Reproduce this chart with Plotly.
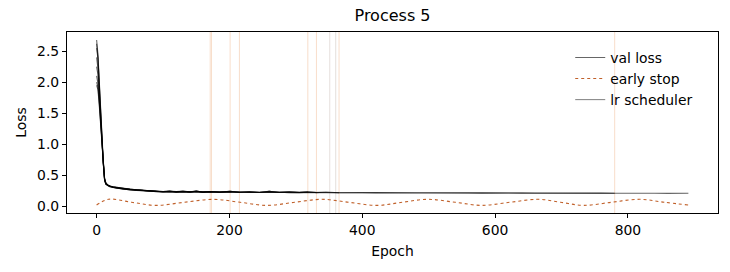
import plotly.graph_objects as go

# ---------------- data ----------------
epochs = [0, 2, 4, 6, 8, 10, 12, 14, 17, 20, 25, 30, 40, 50, 60, 70, 80, 90, 100, 110,
          120, 130, 140, 150, 160, 172, 185, 201, 215, 230, 245, 260, 275, 290, 305, 318,
          331, 345, 365, 380, 400, 420, 440, 460, 480, 500, 520, 540, 560, 580, 600, 620,
          640, 660, 680, 700, 720, 740, 760, 780, 800, 820, 840, 860, 880, 891]

run_1 = [2.68, 2.45, 2.02, 1.55, 1.12, 0.74, 0.45, 0.37, 0.34, 0.32, 0.31, 0.30, 0.28, 0.27,
         0.26, 0.25, 0.24, 0.235, 0.23, 0.228, 0.232, 0.225, 0.228, 0.222, 0.226, 0.22,
         0.224, 0.219, 0.225, 0.218, 0.222, 0.217, 0.221, 0.216, 0.22, 0.215, 0.219, 0.214,
         0.218, 0.213, 0.216, 0.212, 0.215, 0.211, 0.214, 0.21, 0.213, 0.209, 0.212, 0.208,
         0.211, 0.207, 0.21, 0.207, 0.209, 0.206, 0.209, 0.206, 0.208, 0.205, 0.208, 0.205,
         0.207, 0.204, 0.206, 0.205]
run_2 = [2.55, 2.38, 1.98, 1.50, 1.08, 0.70, 0.42, 0.36, 0.33, 0.31, 0.30, 0.29, 0.275,
         0.265, 0.255, 0.245, 0.238, 0.232, 0.228, 0.233, 0.226, 0.23, 0.224, 0.229, 0.222,
         0.227, 0.221, 0.226, 0.22, 0.224, 0.218, 0.223, 0.217, 0.222, 0.216, 0.221, 0.215,
         0.219, 0.214, 0.218, 0.213, 0.216, 0.212, 0.215, 0.211, 0.214, 0.21, 0.213, 0.209,
         0.212, 0.208, 0.211, 0.208, 0.21, 0.207, 0.209, 0.206, 0.209, 0.207, 0.206]
run_3 = [2.25, 2.12, 1.80, 1.40, 1.02, 0.68, 0.43, 0.36, 0.33, 0.315, 0.30, 0.29, 0.27,
         0.26, 0.25, 0.242, 0.236, 0.23, 0.226, 0.234, 0.224, 0.231, 0.223, 0.235, 0.222,
         0.229, 0.221, 0.233, 0.22, 0.228, 0.219, 0.236, 0.218, 0.227, 0.217, 0.231, 0.216,
         0.226, 0.215]
run_4 = [2.62, 2.40, 1.95, 1.48, 1.05, 0.69, 0.44, 0.37, 0.335, 0.32, 0.305, 0.295, 0.28,
         0.27, 0.262, 0.252, 0.244, 0.238, 0.233, 0.238, 0.229, 0.236, 0.227, 0.24, 0.226,
         0.234, 0.225, 0.238, 0.223, 0.232, 0.222, 0.237, 0.221, 0.23, 0.22, 0.225]
run_5 = [2.10, 1.98, 1.70, 1.33, 0.98, 0.66, 0.42, 0.35, 0.325, 0.31, 0.298, 0.287, 0.272,
         0.262, 0.254, 0.246, 0.24, 0.234, 0.229, 0.236, 0.227, 0.233, 0.225, 0.238, 0.224,
         0.231, 0.223, 0.236, 0.222]
run_6 = [1.95, 1.88, 1.62, 1.28, 0.95, 0.64, 0.41, 0.35, 0.33, 0.318, 0.305, 0.295, 0.278,
         0.268, 0.258, 0.25, 0.243, 0.237, 0.232, 0.239, 0.23, 0.237, 0.228, 0.241, 0.227,
         0.235, 0.226, 0.232]
run_7 = [2.00, 1.92, 1.66, 1.31, 0.97, 0.65, 0.42, 0.355, 0.332, 0.32, 0.31, 0.30, 0.285,
         0.272, 0.262, 0.254, 0.247, 0.24, 0.235, 0.242, 0.232, 0.24, 0.23, 0.236, 0.228,
         0.231]
run_8 = [2.40, 2.22, 1.86, 1.44, 1.04, 0.70, 0.44, 0.365, 0.335, 0.322, 0.308, 0.297,
         0.279, 0.268, 0.259, 0.249, 0.242, 0.236, 0.231, 0.237, 0.228, 0.235, 0.226, 0.239,
         0.225, 0.233, 0.224, 0.237, 0.223, 0.231, 0.222, 0.236, 0.221, 0.229, 0.22, 0.226,
         0.219]
val_runs = [run_1, run_2, run_3, run_4, run_5, run_6, run_7, run_8]

early_stop_epochs = [0, 18, 53, 89, 132, 176, 216, 257, 298, 339, 380, 422, 460, 499, 540,
                     580, 622, 665, 699, 733, 775, 818, 855, 891]
early_stop_values = [0.015, 0.108, 0.06, 0.01, 0.06, 0.108, 0.06, 0.01, 0.06, 0.108, 0.06,
                     0.01, 0.06, 0.108, 0.06, 0.01, 0.06, 0.108, 0.06, 0.01, 0.06, 0.108,
                     0.06, 0.016]

stop_marks = [171, 173, 201, 215, 318, 331, 365, 780]
lr_marks = [351, 360]

x_ticks = [0, 200, 400, 600, 800]
y_ticks = [0.0, 0.5, 1.0, 1.5, 2.0, 2.5]

# ---------------- figure ----------------
FONT = "DejaVu Sans"
FS = 13.9
Y_RANGE = [-0.113, 2.81]
fig = go.Figure()

for e in stop_marks:
    fig.add_trace(go.Scatter(x=[e, e], y=Y_RANGE, mode="lines", showlegend=False,
                             line=dict(color="rgba(236,160,105,0.35)", width=1),
                             hoverinfo="skip"))
for e in lr_marks:
    fig.add_trace(go.Scatter(x=[e, e], y=Y_RANGE, mode="lines", showlegend=False,
                             line=dict(color="rgba(170,150,140,0.3)", width=1),
                             hoverinfo="skip"))

for i, vals in enumerate(val_runs):
    fig.add_trace(go.Scatter(x=epochs[:len(vals)], y=vals, mode="lines",
                             name="val loss", showlegend=(i == 0), legendgroup="val",
                             line=dict(color="rgba(0,0,0,0.6)", width=1.1)))

fig.add_trace(go.Scatter(x=early_stop_epochs, y=early_stop_values, mode="lines",
                         name="early stop",
                         line=dict(color="#c0602a", width=1.1, dash="dot", shape="spline")))

fig.add_trace(go.Scatter(x=[None], y=[None], mode="lines", name="lr scheduler",
                         line=dict(color="rgba(0,0,0,0.5)", width=1)))

axis_common = dict(showline=True, linecolor="black", linewidth=1.1, mirror=True,
                   ticks="outside", ticklen=4, tickwidth=1.1, tickcolor="black",
                   showgrid=False, zeroline=False, automargin=False,
                   tickfont=dict(family=FONT, size=FS, color="black"))

fig.update_layout(
    width=730, height=272,
    margin=dict(l=67, r=12, t=32, b=59, autoexpand=False),
    paper_bgcolor="white", plot_bgcolor="white",
    font=dict(family=FONT, size=FS, color="black"),
    title=dict(text="Process 5", x=0.5, xref="paper", xanchor="center",
               y=1 - 15 / 272, yref="container", yanchor="middle",
               font=dict(family=FONT, size=16, color="black")),
    xaxis=dict(range=[-44.6, 935.6], tickvals=x_ticks,
               title=dict(text="Epoch", standoff=9,
                          font=dict(family=FONT, size=FS, color="black")),
               **axis_common),
    yaxis=dict(range=Y_RANGE, tickvals=y_ticks, tickformat=".1f",
               title=dict(text="Loss", standoff=7,
                          font=dict(family=FONT, size=FS, color="black")),
               **axis_common),
    legend=dict(x=0.773, y=0.945, xanchor="left", yanchor="top",
                bgcolor="rgba(0,0,0,0)", borderwidth=0,
                font=dict(family=FONT, size=FS, color="black"),
                itemwidth=30, tracegroupgap=0),
    showlegend=True,
)

fig.write_html("out.html", config={"displayModeBar": False},
               post_script="document.body.style.margin='0';document.body.style.overflow='hidden';")
